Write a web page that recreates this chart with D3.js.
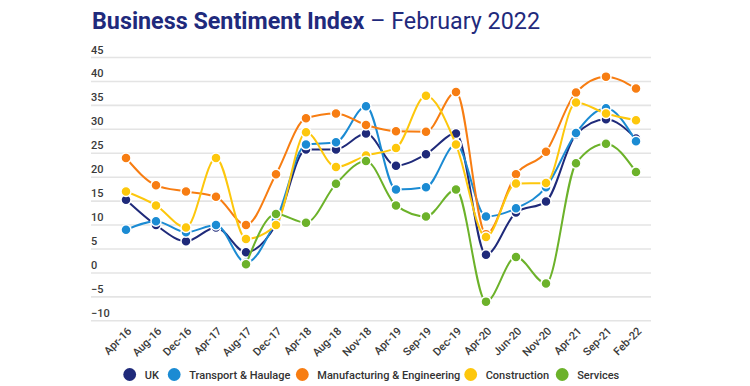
<!DOCTYPE html>
<html><head><meta charset="utf-8">
<script src="https://cdn.jsdelivr.net/npm/d3@7"></script>
<style>
html,body{margin:0;padding:0;background:#fff;}
svg{display:block;font-family:Roboto,"Noto Sans",sans-serif;}
</style></head>
<body><svg id="chart" width="750" height="386"></svg>
<script>
const categories = ["Apr-16","Aug-16","Dec-16","Apr-17","Aug-17","Dec-17","Apr-18","Aug-18","Nov-18","Apr-19","Sep-19","Dec-19","Apr-20","Jun-20","Nov-20","Apr-21","Sep-21","Feb-22"];
const seriesNames = ["UK","Transport & Haulage","Manufacturing & Engineering","Construction","Services"];
const ukValues = [15.2,9.9,6.5,9.4,4.2,10.0,25.7,25.7,29.0,22.3,24.7,29.0,3.7,12.5,14.8,28.8,32.0,28.0];
const transportValues = [8.9,10.7,8.4,9.9,2.0,10.9,26.7,27.2,34.7,17.3,17.8,26.7,11.7,13.4,17.8,29.1,34.3,27.4];
const manufacturingValues = [23.9,18.2,16.9,15.8,9.9,20.5,32.2,33.2,30.8,29.5,29.4,37.7,8.0,20.5,25.2,37.6,40.9,38.4];
const constructionValues = [16.9,14.0,9.4,23.9,7.0,9.9,29.3,22.0,24.4,26.0,36.9,26.7,7.4,18.6,18.7,35.5,33.2,31.8];
const servicesValues = [null,null,null,null,1.7,12.2,10.4,18.5,23.3,14.0,11.7,17.3,-6.1,3.2,-2.3,22.8,26.9,21.0];
const yTicks = [-10,-5,0,5,10,15,20,25,30,35,40,45];
const colors = ["#1f2a7a","#1b8bd3","#f77d12","#fdc70c","#6cb22a"];

const allSeries = [ukValues, transportValues, manufacturingValues, constructionValues, servicesValues];

const svg = d3.select("#chart");
const x = d3.scalePoint().domain(categories).range([126, 636]);
const y = d3.scaleLinear().domain([-10, 45]).range([320.3, 57]);
const gridX0 = 91, gridX1 = 651;

// title
const title = svg.append("text").attr("x", 92).attr("y", 29)
  .attr("fill", "#1f2a7c").style("font-size", "23.3px");
title.append("tspan").attr("font-weight", "bold").text("Business Sentiment Index");
title.append("tspan").attr("font-weight", "normal").text(" \u2013 February 2022");

// y grid + labels
const yAxis = d3.axisLeft(y).tickValues(yTicks).tickSize(-(gridX1 - gridX0)).tickPadding(0);
const gy = svg.append("g").attr("transform", `translate(${gridX0},0)`).call(yAxis);
gy.select(".domain").remove();
gy.selectAll(".tick line").attr("stroke", "#e4e4e4").attr("stroke-width", 1.6);
gy.selectAll(".tick text")
  .attr("x", 0).attr("dy", "-4px").attr("text-anchor", "start")
  .attr("fill", "#3a3a3a").attr("font-weight", 500)
  .style("font-size", "11px").style("font-family", "Roboto");

// x labels
const xAxis = d3.axisBottom(x).tickSize(0).tickPadding(0);
const gx = svg.append("g").attr("transform", `translate(0,329)`).call(xAxis);
gx.select(".domain").remove();
gx.selectAll(".tick text")
  .attr("text-anchor", "end").attr("dy", "0.35em")
  .attr("transform", "translate(3,0) rotate(-45)")
  .attr("fill", "#3a3a3a").attr("font-weight", 500)
  .style("font-size", "11px").style("font-family", "Roboto");

// lines
const line = d3.line()
  .defined(d => d.v !== null)
  .x(d => x(d.c)).y(d => y(d.v))
  .curve(d3.curveMonotoneX);

allSeries.forEach((vals, i) => {
  const data = vals.map((v, j) => ({c: categories[j], v}));
  const g = svg.append("g");
  g.append("path").datum(data).attr("d", line)
    .attr("fill", "none").attr("stroke", colors[i]).attr("stroke-width", 2);
  g.selectAll("circle").data(data.filter(d => d.v !== null)).join("circle")
    .attr("cx", d => x(d.c)).attr("cy", d => y(d.v)).attr("r", 5)
    .attr("fill", colors[i]).attr("stroke", "#fff").attr("stroke-width", 1.5);
});

// legend
const legendCircleX = [129.7, 174.2, 302.3, 470.7, 562.2];
const lg = svg.append("g");
seriesNames.forEach((name, i) => {
  lg.append("circle").attr("cx", legendCircleX[i]).attr("cy", 374.5).attr("r", 6.4).attr("fill", colors[i]);
  lg.append("text").attr("x", legendCircleX[i] + 15).attr("y", 378.5)
    .attr("fill", "#333").attr("font-weight", 500).style("font-size", "11px").text(name);
});
</script></body></html>
